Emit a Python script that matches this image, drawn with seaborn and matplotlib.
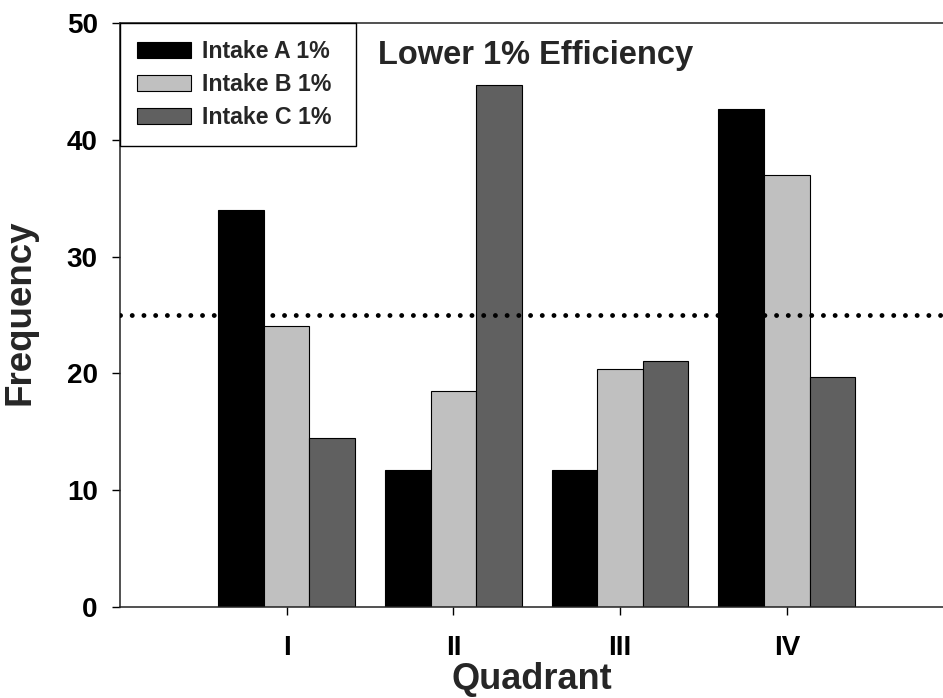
import matplotlib
matplotlib.use('Agg')
import matplotlib.pyplot as plt
import pandas as pd
import seaborn as sns

# values
quadrants = ['I', 'II', 'III', 'IV']
intake_a = [34.0, 11.7, 11.7, 42.6]
intake_b = [24.1, 18.5, 20.4, 37.0]
intake_c = [14.5, 44.7, 21.1, 19.7]
series_names = ['Intake A 1%', 'Intake B 1%', 'Intake C 1%']
bar_colors = ['#000000', '#c0c0c0', '#606060']
ref_level = 25

df = pd.DataFrame({
    'Quadrant': quadrants * 3,
    'Frequency': intake_a + intake_b + intake_c,
    'Series': [s for s in series_names for _ in quadrants],
})

sns.set_style('ticks')
plt.rcParams['font.family'] = ['Liberation Sans', 'DejaVu Sans']
plt.rcParams['font.weight'] = 'bold'

fig = plt.figure(figsize=(9.43, 6.98), dpi=100)
ax = fig.add_axes([120 / 943, 91 / 698, 823 / 943, 584 / 698])

sns.barplot(data=df, x='Quadrant', y='Frequency', hue='Series',
            order=quadrants, hue_order=series_names,
            palette=dict(zip(series_names, bar_colors)), saturation=1,
            width=0.82, edgecolor='black', linewidth=0.8, ax=ax)

# dotted reference line at 25
ax.axhline(ref_level, color='black', lw=3.5, linestyle=(0, (0.01, 2.4)),
           dash_capstyle='round', zorder=5)

ax.set_xlim(-1, 3.937)
ax.set_ylim(0, 50)
ax.set_yticks([0, 10, 20, 30, 40, 50])

for side in ['left', 'bottom', 'top']:
    ax.spines[side].set_visible(True)
    ax.spines[side].set_color('#222222')
    ax.spines[side].set_linewidth(1.1)
ax.spines['right'].set_visible(False)

ax.tick_params(axis='both', direction='out', length=6, width=1,
               labelsize=20, colors='black')
ax.tick_params(axis='y', pad=10)
ax.tick_params(axis='x', pad=14)
for lbl in ax.get_xticklabels() + ax.get_yticklabels():
    lbl.set_fontweight('bold')

ax.set_xlabel('Quadrant', fontsize=26, fontweight='bold')
ax.set_ylabel('Frequency', fontsize=26.5, fontweight='bold')
ax.xaxis.label.set_va('baseline')
ax.xaxis.set_label_coords(0.5, -0.1404)
ax.yaxis.set_label_coords(-0.1, 0.505)

ax.text(0.3135, 0.945, 'Lower 1% Efficiency', transform=ax.transAxes,
        fontsize=23.5, fontweight='bold', va='center', ha='left')

leg = ax.legend(loc='upper left', bbox_to_anchor=(0, 1, 236 / 823, 0),
                mode='expand', borderaxespad=0,
                frameon=True, fancybox=False, edgecolor='black',
                prop={'weight': 'bold', 'size': 16.7},
                handlelength=2.3, handleheight=0.7, handletextpad=0.5,
                labelspacing=0.42, borderpad=0.75)
leg.get_frame().set_linewidth(1)
leg.get_frame().set_alpha(1)

plt.savefig('out.png', dpi=100)
plt.close()
